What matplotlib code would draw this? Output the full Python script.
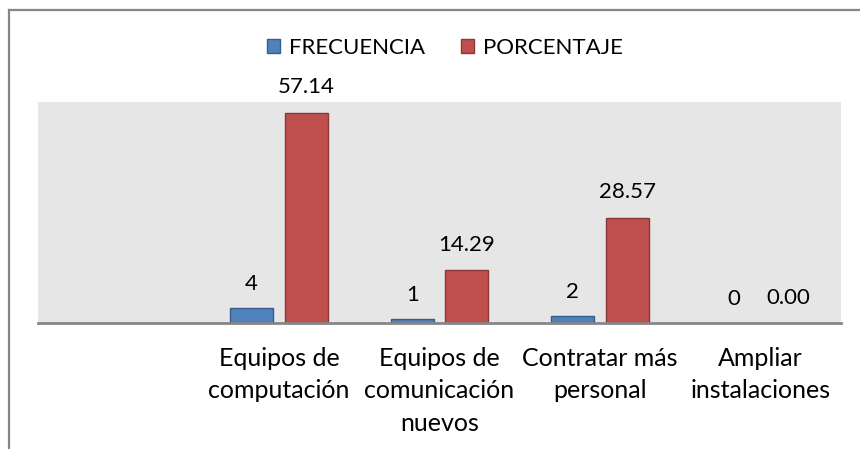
import matplotlib
matplotlib.use("Agg")
import matplotlib.pyplot as plt
from matplotlib.lines import Line2D
from matplotlib.patches import Patch
import numpy as np

plt.rcParams['font.family'] = ['Lato', 'DejaVu Sans']

categories = ["", "Equipos de\ncomputación", "Equipos de\ncomunicación\nnuevos",
              "Contratar más\npersonal", "Ampliar\ninstalaciones"]
frecuencia = [None, 4, 1, 2, 0]
porcentaje = [None, 57.14, 14.29, 28.57, 0.00]
freq_labels = ["", "4", "1", "2", "0"]
pct_labels = ["", "57.14", "14.29", "28.57", "0.00"]

blue, blue_edge = "#4F81BD", "#385D8A"
red, red_edge = "#C0504D", "#8C3836"
FS = 16
FS_CAT = 18

fig = plt.figure(figsize=(8.6, 4.49), dpi=100)
ax = fig.add_axes([38/860, 1-323/449, (841-38)/860, (323-102)/449])
ax.set_facecolor("#E6E6E6")

x = np.arange(len(categories))
w = 0.268
off = 0.17
for i in range(len(categories)):
    if frecuencia[i] is None:
        continue
    ax.bar(x[i]-off, frecuencia[i], w, color=blue, edgecolor=blue_edge, linewidth=1)
    ax.bar(x[i]+off, porcentaje[i], w, color=red, edgecolor=red_edge, linewidth=1)
    ax.annotate(freq_labels[i], (x[i]-off, frecuencia[i]), xytext=(0, 10),
                textcoords="offset points", ha="center", va="bottom", fontsize=FS)
    ax.annotate(pct_labels[i], (x[i]+off, porcentaje[i]), xytext=(0, 11),
                textcoords="offset points", ha="center", va="bottom", fontsize=FS)

ax.set_xlim(-0.5, len(categories)-0.5)
ax.set_ylim(0, 60)
ax.set_yticks([])
ax.set_xticks(x)
ax.set_xticklabels(categories, fontsize=FS_CAT, linespacing=1.5)
ax.tick_params(axis="x", length=0, pad=17)
for s in ["top", "right", "left"]:
    ax.spines[s].set_visible(False)
ax.spines["bottom"].set_color("#868686")
ax.spines["bottom"].set_linewidth(2)

handles = [Patch(facecolor=blue, edgecolor=blue_edge, label="FRECUENCIA"),
           Patch(facecolor=red, edgecolor=red_edge, label="PORCENTAJE")]
fig.legend(handles=handles, loc="center", bbox_to_anchor=(445/860, 1-48/449),
           ncol=2, frameon=False, fontsize=FS, handlelength=0.6, handleheight=0.6,
           handletextpad=0.4, columnspacing=1.6)

# outer chart border (cropped: top and left visible)
fig.add_artist(Line2D([9/860, 9/860], [0, 1-10/449], transform=fig.transFigure,
                      color="#868686", linewidth=1.6))
fig.add_artist(Line2D([9/860, 1], [1-10/449, 1-10/449], transform=fig.transFigure,
                      color="#868686", linewidth=1.6))

fig.savefig("out.png", dpi=100)
